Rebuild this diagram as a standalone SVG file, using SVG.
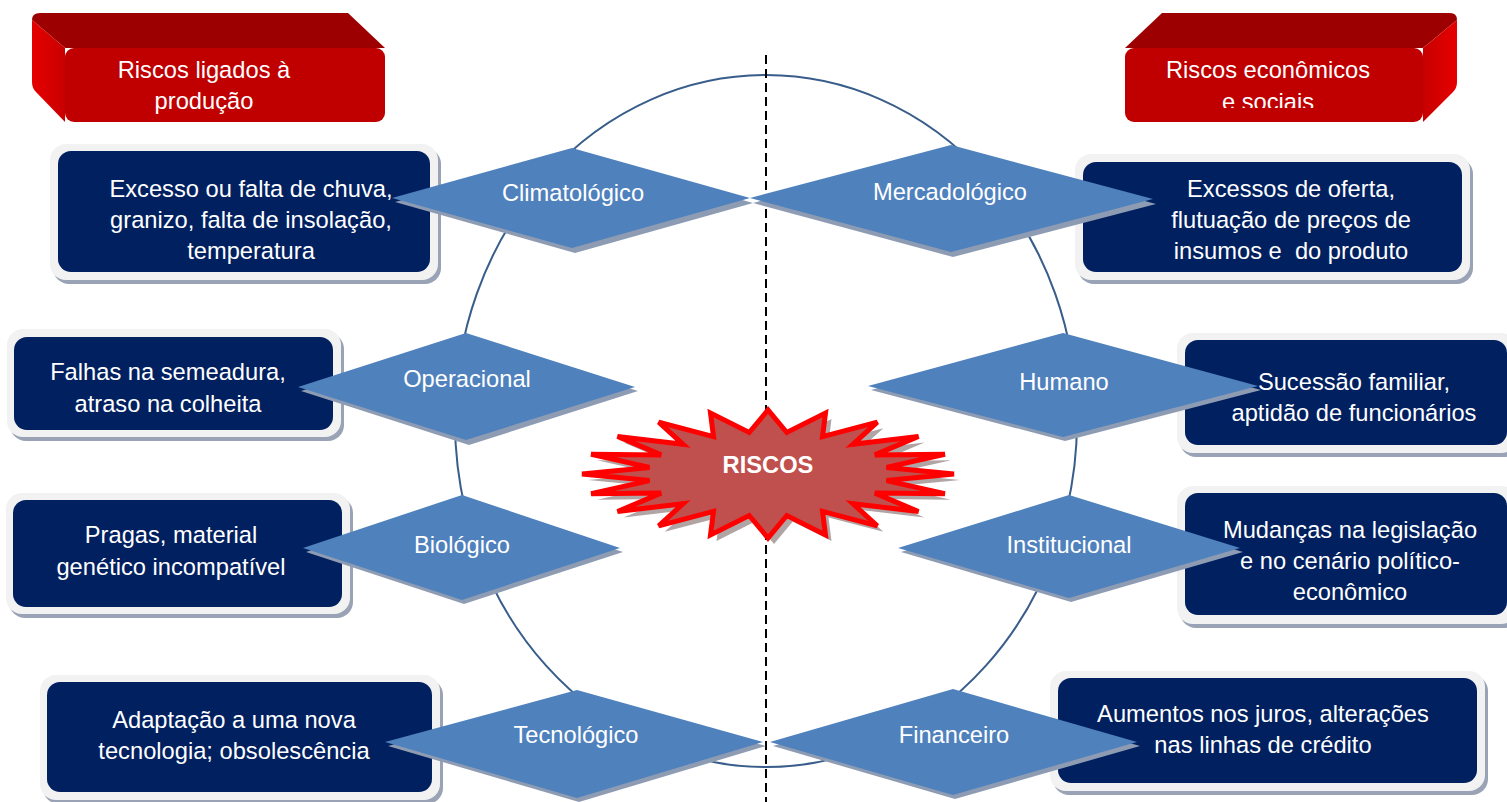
<svg xmlns="http://www.w3.org/2000/svg" width="1507" height="802" viewBox="0 0 1507 802">
<defs>
<style>
.t{font-family:"Liberation Sans",Arial,sans-serif;font-size:23.7px;fill:#ffffff;text-anchor:middle}
.frame{fill:#f2f2f2}
.fsh{fill:#9aa3b5}
.inner{fill:#002060}
.dia{fill:#4f81bd}
.dsh{fill:#8e9cb3}
</style>
<linearGradient id="sideL" x1="0" y1="0" x2="1" y2="0"><stop offset="0" stop-color="#e60000"/><stop offset="1" stop-color="#c80000"/></linearGradient>
<linearGradient id="sideR" x1="0" y1="0" x2="1" y2="0"><stop offset="0" stop-color="#c80000"/><stop offset="1" stop-color="#e60000"/></linearGradient>
<clipPath id="clipR"><rect x="1125" y="48" width="298" height="60"/></clipPath>
</defs>
<rect width="1507" height="802" fill="#ffffff"/>

<!-- header boxes -->
<g id="hdr-left">
<path d="M40,13 L348,13 L385,48 L65,48 L32,20 Q32,13 40,13 Z" fill="#9c0000"/>
<path d="M32,20 L65,48 L65,122 L36,92 Q32,88 32,82 Z" fill="url(#sideL)"/>
<rect x="65" y="48" width="320" height="74" rx="9" fill="#c00000"/>
<text class="t" x="204" y="78">Riscos ligados à</text>
<text class="t" x="204" y="109">produção</text>
</g>
<g id="hdr-right">
<path d="M1162,13 L1450,13 Q1457,13 1457,20 L1423,48 L1125,48 Z" fill="#9c0000"/>
<path d="M1457,20 L1457,82 Q1457,88 1453,92 L1423,122 L1423,48 Z" fill="url(#sideR)"/>
<rect x="1125" y="48" width="298" height="74" rx="9" fill="#c00000"/>
<g clip-path="url(#clipR)">
<text class="t" x="1268" y="78">Riscos econômicos</text>
<text class="t" x="1268" y="110">e sociais</text>
</g>
</g>

<!-- connectors: circle and dashed divider -->
<g id="connectors">
<ellipse cx="766" cy="421" rx="311" ry="346" fill="none" stroke="#385d8a" stroke-width="2"/>
<line x1="766" y1="55" x2="766" y2="802" stroke="#000000" stroke-width="2" stroke-dasharray="9,5"/>
</g>

<!-- description boxes -->
<g id="box-clima">
<rect class="fsh" x="53" y="148" width="388" height="136" rx="16"/>
<rect class="frame" x="50" y="144" width="388" height="136" rx="16"/>
<rect class="inner" x="58" y="151" width="372" height="121" rx="13"/>
<text class="t" x="251" y="197">Excesso ou falta de chuva,</text>
<text class="t" x="251" y="228">granizo, falta de insolação,</text>
<text class="t" x="251" y="259">temperatura</text>
</g>
<g id="box-oper">
<rect class="fsh" x="10" y="333" width="334" height="108" rx="16"/>
<rect class="frame" x="7" y="329" width="334" height="108" rx="16"/>
<rect class="inner" x="14" y="337" width="319" height="93" rx="13"/>
<text class="t" x="168" y="380">Falhas na semeadura,</text>
<text class="t" x="168" y="412">atraso na colheita</text>
</g>
<g id="box-bio">
<rect class="fsh" x="9" y="497" width="344" height="121" rx="16"/>
<rect class="frame" x="6" y="493" width="344" height="121" rx="16"/>
<rect class="inner" x="13" y="500" width="329" height="107" rx="13"/>
<text class="t" x="171" y="543">Pragas, material</text>
<text class="t" x="171" y="575">genético incompatível</text>
</g>
<g id="box-tec">
<rect class="fsh" x="43" y="679" width="400" height="125" rx="16"/>
<rect class="frame" x="40" y="675" width="400" height="125" rx="16"/>
<rect class="inner" x="47" y="682" width="385" height="110" rx="13"/>
<text class="t" x="234" y="728">Adaptação a uma nova</text>
<text class="t" x="234" y="759">tecnologia; obsolescência</text>
</g>
<g id="box-merc">
<rect class="fsh" x="1078" y="158" width="395" height="126" rx="16"/>
<rect class="frame" x="1075" y="154" width="395" height="126" rx="16"/>
<rect class="inner" x="1083" y="162" width="379" height="110" rx="13"/>
<text class="t" x="1291" y="197">Excessos de oferta,</text>
<text class="t" x="1291" y="228">flutuação de preços de</text>
<text class="t" x="1291" y="259">insumos e&#160; do produto</text>
</g>
<g id="box-hum">
<rect class="fsh" x="1180" y="337" width="340" height="120" rx="16"/>
<rect class="frame" x="1177" y="333" width="340" height="120" rx="16"/>
<rect class="inner" x="1185" y="340" width="322" height="105" rx="13"/>
<text class="t" x="1354" y="390">Sucessão familiar,</text>
<text class="t" x="1354" y="421">aptidão de funcionários</text>
</g>
<g id="box-inst">
<rect class="fsh" x="1180" y="490" width="340" height="138" rx="16"/>
<rect class="frame" x="1177" y="486" width="340" height="138" rx="16"/>
<rect class="inner" x="1185" y="493" width="322" height="122" rx="13"/>
<text class="t" x="1350" y="538">Mudanças na legislação</text>
<text class="t" x="1350" y="569">e no cenário político-</text>
<text class="t" x="1350" y="600">econômico</text>
</g>
<g id="box-fin">
<rect class="fsh" x="1053" y="675" width="435" height="120" rx="16"/>
<rect class="frame" x="1050" y="671" width="435" height="120" rx="16"/>
<rect class="inner" x="1058" y="678" width="419" height="105" rx="13"/>
<text class="t" x="1263" y="722">Aumentos nos juros, alterações</text>
<text class="t" x="1263" y="753">nas linhas de crédito</text>
</g>

<!-- diamonds -->
<g id="d-clima">
<polygon class="dsh" points="395,202 575,152 753,203 575,253"/>
<polygon class="dia" points="392,198 572,148 750,198 572,248"/>
<text class="t" x="573" y="201">Climatológico</text>
</g>
<g id="d-merc">
<polygon class="dsh" points="753,203 953,149 1156,204 953,257"/>
<polygon class="dia" points="750,198 951,145 1153,199 951,252"/>
<text class="t" x="950" y="200">Mercadológico</text>
</g>
<g id="d-oper">
<polygon class="dsh" points="301,391 469,337 638,391 469,445"/>
<polygon class="dia" points="298,387 466,333 635,387 466,440"/>
<text class="t" x="467" y="387">Operacional</text>
</g>
<g id="d-hum">
<polygon class="dsh" points="871,390 1065,337 1261,390 1065,441"/>
<polygon class="dia" points="868,386 1063,333 1258,386 1063,437"/>
<text class="t" x="1064" y="390">Humano</text>
</g>
<g id="d-bio">
<polygon class="dsh" points="306,552 464,499 623,552 464,604"/>
<polygon class="dia" points="303,548 462,495 620,548 462,600"/>
<text class="t" x="462" y="553">Biológico</text>
</g>
<g id="d-inst">
<polygon class="dsh" points="901,552 1071,499 1243,552 1071,602"/>
<polygon class="dia" points="898,548 1069,495 1240,548 1069,598"/>
<text class="t" x="1069" y="553">Institucional</text>
</g>
<g id="d-tec">
<polygon class="dsh" points="388,746 579,694 766,746 579,802"/>
<polygon class="dia" points="385,742 577,690 763,742 577,798"/>
<text class="t" x="576" y="743">Tecnológico</text>
</g>
<g id="d-fin">
<polygon class="dsh" points="773,746 955,693 1140,746 955,799"/>
<polygon class="dia" points="770,742 953,689 1137,742 953,795"/>
<text class="t" x="954" y="743">Financeiro</text>
</g>

<!-- central starburst -->
<g id="riscos">
<polygon transform="translate(6,6)" fill="#b0a4a4" points="954,474 886.5,480.6 944.9,493.8 874.9,493.1 918.5,511.6 852.9,503.7 877.3,525.8 822.5,511.4 825.5,534.9 786.8,515.5 768,538 749.2,515.5 710.5,534.9 713.5,511.4 658.7,525.8 683.1,503.7 617.5,511.6 661.1,493.1 591.1,493.8 649.5,480.6 582,474 649.5,467.4 591.1,454.2 661.1,454.9 617.5,436.4 683.1,444.3 658.7,422.2 713.5,436.6 710.5,413.1 749.2,432.5 768,410 786.8,432.5 825.5,413.1 822.5,436.6 877.3,422.2 852.9,444.3 918.5,436.4 874.9,454.9 944.9,454.2 886.5,467.4"/>
<polygon fill="#c0504d" stroke="#ff0000" stroke-width="5" stroke-linejoin="miter" points="954,474 886.5,480.6 944.9,493.8 874.9,493.1 918.5,511.6 852.9,503.7 877.3,525.8 822.5,511.4 825.5,534.9 786.8,515.5 768,538 749.2,515.5 710.5,534.9 713.5,511.4 658.7,525.8 683.1,503.7 617.5,511.6 661.1,493.1 591.1,493.8 649.5,480.6 582,474 649.5,467.4 591.1,454.2 661.1,454.9 617.5,436.4 683.1,444.3 658.7,422.2 713.5,436.6 710.5,413.1 749.2,432.5 768,410 786.8,432.5 825.5,413.1 822.5,436.6 877.3,422.2 852.9,444.3 918.5,436.4 874.9,454.9 944.9,454.2 886.5,467.4"/>
<text class="t" x="768" y="473" style="font-weight:bold">RISCOS</text>
</g>
</svg>
